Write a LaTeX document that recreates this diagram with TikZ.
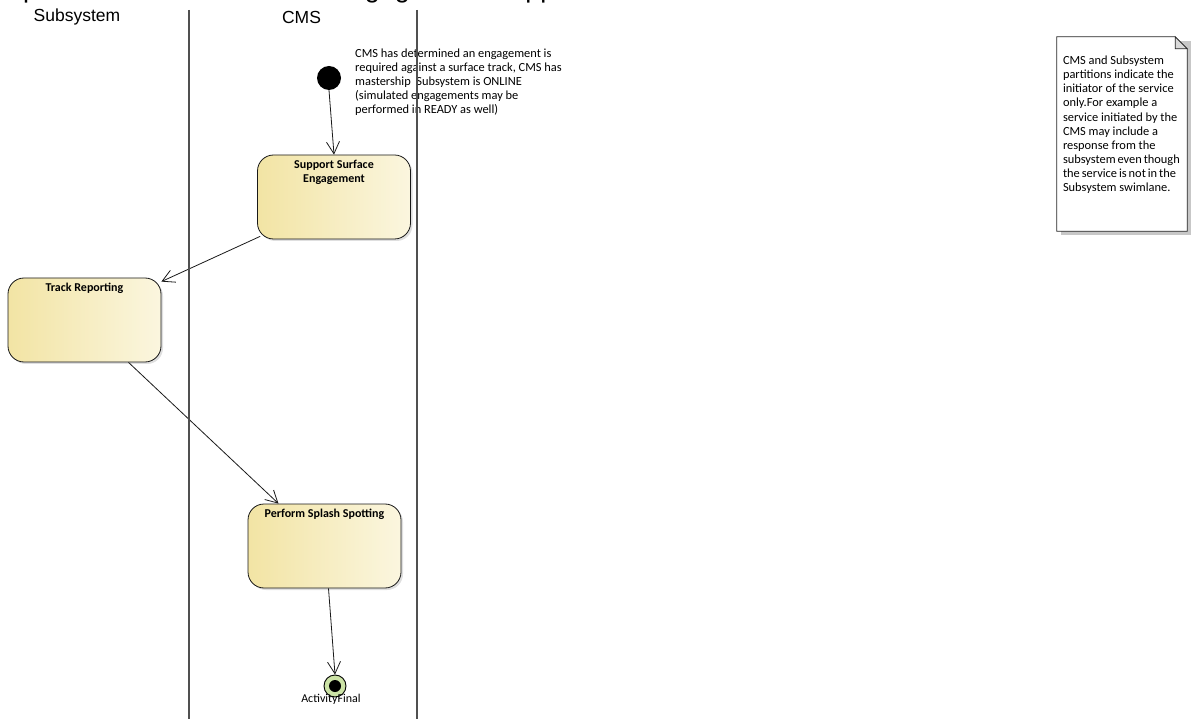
\documentclass[tikz,border=0pt]{standalone}
\usepackage{fontspec}
\setmainfont{Carlito}
\newfontfamily\arial{Liberation Sans}
\usetikzlibrary{arrows.meta,shadows,calc}

\definecolor{actL}{HTML}{F2E4A4}
\definecolor{actR}{HTML}{FBF6DF}
\definecolor{finalG}{HTML}{CCE3A6}
\definecolor{laneC}{HTML}{505050}

\begin{document}
\begin{tikzpicture}[x=1pt,y=-1pt,
  actbox/.style={draw=black!90, line width=0.8pt, rounded corners=16pt,
    left color=actL, right color=actR, minimum width=153pt, minimum height=84pt,
    inner sep=0pt,
    drop shadow={shadow xshift=2pt,shadow yshift=-2pt,fill=black!18,opacity=0.7}},
  acttitle/.style={font=\bfseries\fontsize{12}{14}\selectfont, align=center,
    inner sep=0pt, anchor=north},
  flow/.style={draw=black!90, line width=0.8pt,
    -{Straight Barb[length=12pt,width=13pt,line width=0.8pt]}},
  lane/.style={draw=laneC, line width=1.3pt},
  lanehead/.style={font=\arial\fontsize{17.5}{20}\selectfont, inner sep=0pt},
  comment/.style={font=\fontsize{12.4}{14}\selectfont, align=left, inner sep=0pt}
]
\useasboundingbox (0,0) rectangle (1200,719);

% diagram title, mostly above the visible area
\begin{scope}
  \clip (0,0) rectangle (1200,719);
  \node[anchor=base west, inner sep=0pt, font=\arial\fontsize{27}{30}\selectfont]
    (title) at (5,-2) {Specific Scenario: Surface Engagement Support};
\end{scope}

% lane headers
\node[lanehead] (lsub) at (77,17) {Subsystem};
\node[lanehead] (lcms) at (301.5,17) {CMS};

% start condition text
\node[comment, anchor=north west] (cond) at (355,48.5)
  {CMS has determined an engagement is\\
   required against a surface track, CMS has\\
   mastership\ \ Subsystem is ONLINE\\
   (simulated engagements may be\\
   performed in READY as well)};

% initial node
\node[circle, fill=black, minimum size=24pt, inner sep=0pt] (init) at (329,78) {};

% actions
\node[actbox] (sse) at (334,197) {};
\node[acttitle] (sset) at ($(sse.north)+(0,5)$) {Support Surface\\Engagement};

\node[actbox] (tr) at (84.5,320) {};
\node[acttitle] (trt) at ($(tr.north)+(0,5)$) {Track Reporting};

\node[actbox] (pss) at (324.5,546) {};
\node[acttitle] (psst) at ($(pss.north)+(0,5)$) {Perform Splash Spotting};

% final node
\node[circle, draw=black, line width=0.9pt, fill=finalG, minimum size=22pt,
      inner sep=0pt] (fin) at (335,686) {};
\node[circle, fill=black, minimum size=12pt, inner sep=0pt] (findot) at (fin) {};
\node[font=\fontsize{12}{14}\selectfont, inner sep=0pt] (finl) at (331,699) {ActivityFinal};

% control flows
\draw[flow] (init.south) -- (sse.north);
\draw[flow] ($(sse.south west)+(3,-3)$) -- ($(tr.north east)+(0,4)$);
\draw[flow] ($(tr.south)+(44,0)$) -- ($(pss.north)+(-46,0)$);
\draw[flow] ($(pss.south)+(4,0)$) -- (fin.north);

% swimlane separators
\coordinate (s1t) at (189,10); \coordinate (s1b) at (189,719);
\coordinate (s2t) at (417,10); \coordinate (s2b) at (417,719);
\draw[lane] (s1t) -- (s1b);
\draw[lane] (s2t) -- (s2b);

% note with folded corner
\node[minimum width=130pt, minimum height=194pt, inner sep=0pt] (note) at (1122,134) {};
\fill[black!22] ($(note.north west)+(4,4)$) rectangle ($(note.south east)+(4,4)$);
\filldraw[fill=white, draw=black!85, line width=0.8pt]
  (note.north west) -- ($(note.north east)+(-12,0)$) -- ($(note.north east)+(0,12)$)
  -- (note.south east) -- (note.south west) -- cycle;
\filldraw[fill=black!15, draw=black!85, line width=0.8pt]
  ($(note.north east)+(-12,0)$) -- ($(note.north east)+(-12,12)$)
  -- ($(note.north east)+(0,12)$) -- cycle;
\node[comment, font=\fontsize{12.4}{14.1}\selectfont, anchor=north west]
  (notetext) at ($(note.north west)+(6,19)$)
  {CMS and Subsystem\\
   partitions indicate the\\
   initiator of the service\\
   only.For example a\\
   service initiated by the\\
   CMS may include a\\
   response from the\\
   \makebox[113pt][s]{subsystem even though}\\
   \makebox[113pt][s]{the service is not in the}\\
   Subsystem swimlane.};
\end{tikzpicture}
\end{document}
